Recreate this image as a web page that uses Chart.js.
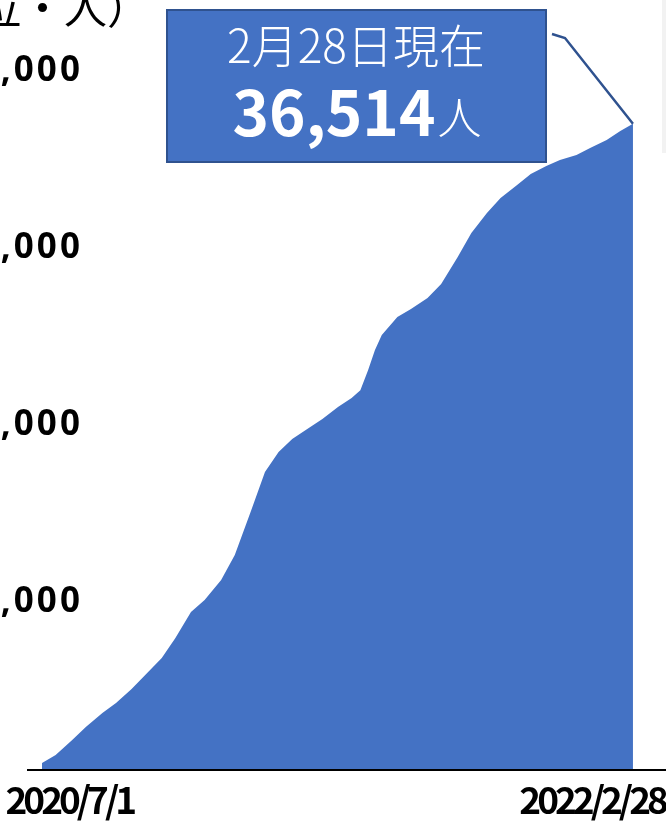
<!DOCTYPE html>
<html lang="ja">
<head>
<meta charset="utf-8">
<title>累計人数</title>
<script src="https://cdn.jsdelivr.net/npm/chart.js@4.4.1/dist/chart.umd.min.js"></script>
<style>
  html, body { margin: 0; padding: 0; background: #fff; overflow: hidden; }
  #wrap { position: relative; width: 666px; height: 824px; overflow: hidden; }
  #myChart { position: absolute; left: -50px; top: 0; }
  #edge { position: absolute; left: 662px; top: 0; width: 4px; height: 153px; background: #f2f2f2; }
</style>
</head>
<body>
<div id="wrap">
  <div id="edge"></div>
  <canvas id="myChart" width="750" height="824"></canvas>
</div>
<script>
// cumulative totals
const dates = [
  '2020/7/1', '2020/7/15', '2020/8/1', '2020/8/15', '2020/9/1', '2020/9/15',
  '2020/10/1', '2020/10/15', '2020/11/1', '2020/11/15', '2020/12/1', '2020/12/15',
  '2021/1/1', '2021/1/15', '2021/2/1', '2021/2/15', '2021/3/1', '2021/3/15',
  '2021/4/1', '2021/4/15', '2021/5/1', '2021/5/15', '2021/5/24', '2021/6/1',
  '2021/6/8', '2021/6/15', '2021/7/1', '2021/7/15', '2021/8/1', '2021/8/15',
  '2021/9/1', '2021/9/15', '2021/10/1', '2021/10/15', '2021/11/1', '2021/11/15',
  '2021/12/1', '2021/12/15', '2022/1/1', '2022/1/15', '2022/2/1', '2022/2/15',
  '2022/2/28'
];
const totals = [
  400, 850, 1700, 2430, 3220, 3790,
  4580, 5370, 6330, 7460, 8930, 9600,
  10730, 12150, 14690, 16840, 17970, 18700,
  19320, 19830, 20510, 21020, 21450, 22600,
  23730, 24580, 25590, 26050, 26670, 27460,
  28980, 30340, 31470, 32320, 33050, 33670,
  34120, 34460, 34750, 35140, 35590, 36100,
  36514
];
const xTickLabels = ['2020/7/1', '2022/2/28'];
const unitLabel = '（単位・人）';

// layout helpers (page px -> canvas px)
const SHIFT = 50;
const xLabelDays = [28, 565];
const yAxisAtDay = 42;

const dayOf = s => {
  const [y, m, d] = s.split('/').map(Number);
  return Date.UTC(y, m - 1, d);
};
const start = dayOf(dates[0]);
const points = dates.map((d, i) => ({ x: (dayOf(d) - start) / 86400000, y: totals[i] }));

const calloutPlugin = {
  id: 'callout',
  beforeDraw(chart) {
    // y labels are drawn first: wider digits
    chart.ctx.letterSpacing = '3px';
  },
  afterDatasetsDraw(chart) {
    // x labels (z:1) are drawn after the area: narrower
    chart.ctx.letterSpacing = '-4px';
  },
  afterDraw(chart) {
    const ctx = chart.ctx;
    ctx.letterSpacing = '0px';
    const pts = chart.getDatasetMeta(0).data;
    const last = pts[pts.length - 1];
    ctx.save();

    // unit label (top left, partly cut off)
    ctx.fillStyle = '#000';
    ctx.font = '43px "Noto Sans CJK JP"';
    ctx.textAlign = 'right';
    ctx.textBaseline = 'alphabetic';
    ctx.fillText(unitLabel, 150 + SHIFT, 24);

    // leader line to last point
    ctx.strokeStyle = '#2F528F';
    ctx.lineWidth = 2.5;
    ctx.beginPath();
    ctx.moveTo(552 + SHIFT, 34);
    ctx.lineTo(565 + SHIFT, 38);
    ctx.lineTo(last.x, last.y);
    ctx.stroke();

    // box
    ctx.lineWidth = 2;
    ctx.fillStyle = '#4472C4';
    ctx.fillRect(166 + SHIFT, 9, 381, 154);
    ctx.strokeRect(167 + SHIFT, 10, 379, 152);

    // box texts
    const cx = 356 + SHIFT;
    const parts = dates[dates.length - 1].split('/');
    ctx.fillStyle = '#fff';
    ctx.textAlign = 'center';
    ctx.font = '300 46px "Noto Sans CJK JP"';
    ctx.fillText(parts[1] + '月' + parts[2] + '日現在', cx, 63);

    const num = totals[totals.length - 1].toLocaleString('en-US');
    ctx.font = 'bold 62px "Noto Sans CJK JP"';
    const w1 = ctx.measureText(num).width;
    ctx.font = '300 44px "Noto Sans CJK JP"';
    const w2 = ctx.measureText('人').width;
    const x0 = cx - (w1 + w2) / 2;
    ctx.textAlign = 'left';
    ctx.font = 'bold 62px "Noto Sans CJK JP"';
    ctx.fillText(num, x0, 136);
    ctx.font = '300 44px "Noto Sans CJK JP"';
    ctx.fillText('人', x0 + w1 + 2, 134);
    ctx.restore();
  }
};

const ctx = document.getElementById('myChart').getContext('2d');
new Chart(ctx, {
  type: 'line',
  data: {
    datasets: [{
      label: '累計',
      data: points,
      fill: 'origin',
      backgroundColor: '#4472C4',
      borderWidth: 0,
      pointRadius: 0,
      tension: 0
    }]
  },
  options: {
    responsive: false,
    animation: false,
    layout: { padding: { top: 62, left: 78, right: 10, bottom: 0 } },
    plugins: {
      legend: { display: false },
      tooltip: { enabled: false }
    },
    scales: {
      x: {
        type: 'linear',
        min: -14.4,
        max: 665.6,
        grid: { display: false, drawTicks: false },
        border: { color: '#000', width: 2, z: 1 },
        afterBuildTicks: s => { s.ticks = xLabelDays.map(v => ({ value: v })); },
        afterFit: s => { s.height = 54; },
        ticks: {
          z: 1,
          autoSkip: false,
          maxRotation: 0,
          padding: 8,
          color: '#000',
          font: { family: '"Noto Sans CJK JP"', size: 37, weight: 'bold' },
          callback: (v, i) => xTickLabels[i]
        }
      },
      y: {
        position: { x: yAxisAtDay },
        min: 0,
        max: 40000,
        grid: { display: false, drawTicks: false },
        border: { display: false },
        ticks: {
          stepSize: 10000,
          padding: 0,
          labelOffset: 9,
          color: '#000',
          font: { family: '"Noto Sans"', size: 35, weight: 'bold' },
          callback: v => v === 0 ? '' : v.toLocaleString('en-US')
        }
      }
    }
  },
  plugins: [calloutPlugin]
});
</script>
</body>
</html>
